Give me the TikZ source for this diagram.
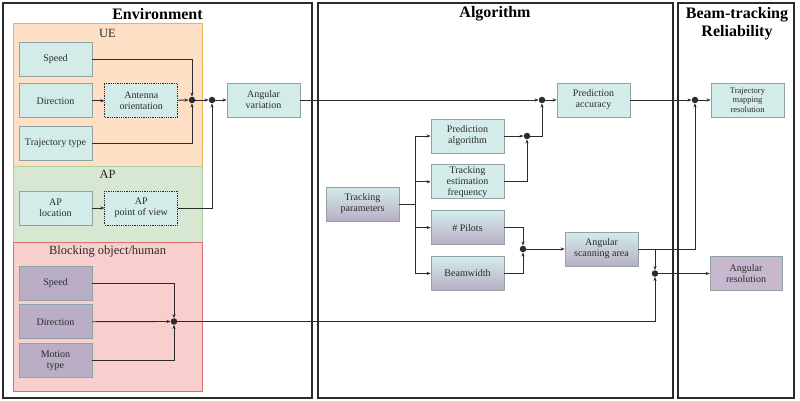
\documentclass[tikz,border=0pt]{standalone}
\usepackage{fontspec}
\setmainfont{Liberation Serif}
\usetikzlibrary{arrows.meta,positioning}
\definecolor{boxteal}{HTML}{D3ECEA}
\definecolor{boxline}{HTML}{8FA3A3}
\definecolor{boxpurple}{HTML}{B9AEC6}
\definecolor{respurple}{HTML}{C7B8D0}
\definecolor{uefill}{HTML}{FDDFC6}
\definecolor{ueline}{HTML}{EDB24C}
\definecolor{apfill}{HTML}{D7E7D2}
\definecolor{apline}{HTML}{A9CF9E}
\definecolor{blfill}{HTML}{F8CFCD}
\definecolor{blline}{HTML}{DF6E6E}
\definecolor{linegray}{HTML}{2B2B2B}

\begin{document}
\begin{tikzpicture}[x=1pt,y=-1pt,
  node distance=7pt and 12pt,
  box/.style={draw=boxline,fill=boxteal,line width=0.8pt,align=center,minimum width=73pt,minimum height=34pt,inner sep=1pt,text=linegray,font=\fontsize{10}{11}\selectfont},
  dbox/.style={box,draw=linegray,densely dotted},
  pbox/.style={box,fill=boxpurple},
  gbox/.style={box,top color=boxteal,bottom color=boxpurple},
  panel/.style={draw=linegray,line width=1.3pt},
  region/.style={line width=0.8pt},
  paneltitle/.style={font=\fontsize{16}{18}\selectfont\bfseries,align=center,inner sep=0pt},
  grouptitle/.style={font=\fontsize{12.5}{14}\selectfont,inner sep=0pt,text=linegray},
  arr/.style={draw=linegray,line width=0.9pt,-{Stealth[length=4pt,width=3.2pt]}},
  plain/.style={draw=linegray,line width=0.9pt},
  dot/.style={circle,fill=linegray,inner sep=0pt,minimum size=6.5pt}
]
\useasboundingbox (0,0) rectangle (800,401);
\draw[panel] (3,3) rectangle (312,398);
\draw[panel] (318,3) rectangle (673,398);
\draw[panel] (678,3) rectangle (794,398);
\node[paneltitle] (envtitle) at (157.5,14) {Environment};
\node[paneltitle] (algtitle) at (495,14) {Algorithm};
\node[paneltitle] (reltitle) at (737,23.5) {Beam-tracking\\Reliability};
\draw[region,fill=uefill,draw=ueline] (13,23) rectangle (202,166);
\draw[region,fill=apfill,draw=apline] (13,166) rectangle (202,242);
\draw[region,fill=blfill,draw=blline] (13,242) rectangle (202,391);
\node[grouptitle] (uetitle) at (107.5,33) {UE};
\node[grouptitle] (aptitle) at (107.5,174.5) {AP};
\node[grouptitle] (bltitle) at (107.5,251.5) {Blocking object/human};

\node[box] (uespeed) at (55.5,59) {Speed};
\node[box,below=of uespeed] (uedir) {Direction};
\node[box,below=8pt of uedir] (uetraj) {Trajectory type};
\node[dbox,right=of uedir] (antenna) {Antenna\\orientation};
\node[box] (angvar) at (263.5,100) {Angular\\variation};
\node[box] (aploc) at (55.5,208) {AP\\location};
\node[dbox,right=of aploc] (appov) {AP\\point of view};
\node[pbox] (blspeed) at (55.5,283) {Speed};
\node[pbox,below=4pt of blspeed] (bldir) {Direction};
\node[pbox,below=4pt of bldir] (blmotion) {Motion\\type};

\node[gbox] (tparam) at (362.5,204) {Tracking\\parameters};
\node[box] (predalg) at (467.5,136) {Prediction\\algorithm};
\node[box,below=11pt of predalg] (tefreq) {Tracking\\estimation\\frequency};
\node[gbox,below=11pt of tefreq] (pilots) {\# Pilots};
\node[gbox,below=11pt of pilots] (beamw) {Beamwidth};
\node[box] (predacc) at (593.5,100) {Prediction\\accuracy};
\node[gbox] (scan) at (601.5,249) {Angular\\scanning area};
\node[box,font=\fontsize{8.5}{9.5}\selectfont] (trajmap) at (747.5,100) {Trajectory\\mapping\\resolution};
\node[box,fill=respurple,minimum width=72pt] (angres) at (746,273.5) {Angular\\resolution};

\node[dot] (j1) at (192,100) {};
\node[dot] (j2) at (212,100) {};
\node[dot] (j3) at (174,321.5) {};
\node[dot] (j4) at (527,136) {};
\node[dot] (j5) at (542,100) {};
\node[dot] (j6) at (523,249) {};
\node[dot] (j7) at (695,100) {};
\node[dot] (j8) at (655,273.5) {};
\coordinate (split) at (415,204);
\coordinate (tap) at (655,249);

\draw[arr] (uespeed.east) -| (j1);
\draw[arr] (uedir) -- (antenna);
\draw[arr] (antenna) -- (j1);
\draw[arr] (uetraj.east) -| (j1);
\draw[arr] (j1) -- (j2);
\draw[arr] (aploc) -- (appov);
\draw[arr] (appov.east) -| (j2);
\draw[arr] (j2) -- (angvar);
\draw[arr] (angvar) -- (j5);
\draw[arr] (blspeed.east) -| (j3);
\draw[arr] (bldir) -- (j3);
\draw[arr] (blmotion.east) -| (j3);
\draw[arr] (j3) -| (j8);

\draw[plain] (tparam) -- (split);
\draw[plain] (split |- predalg) -- (split |- beamw);
\draw[arr] (split |- predalg) -- (predalg);
\draw[arr] (split |- tefreq) -- (tefreq);
\draw[arr] (split |- pilots) -- (pilots);
\draw[arr] (split |- beamw) -- (beamw);
\draw[arr] (predalg) -- (j4);
\draw[arr] (tefreq.east) -| (j4);
\draw[arr] (j4) -| (j5);
\draw[arr] (j5) -- (predacc);
\draw[arr] (pilots.east) -| (j6);
\draw[arr] (beamw.east) -| (j6);
\draw[arr] (j6) -- (scan);
\draw[arr] (predacc) -- (j7);
\draw[arr] (j7) -- (trajmap);
\draw[arr] (scan.east) -| (j7);
\draw[arr] (tap) -- (j8);
\draw[arr] (j8) -- (angres);
\end{tikzpicture}
\end{document}
